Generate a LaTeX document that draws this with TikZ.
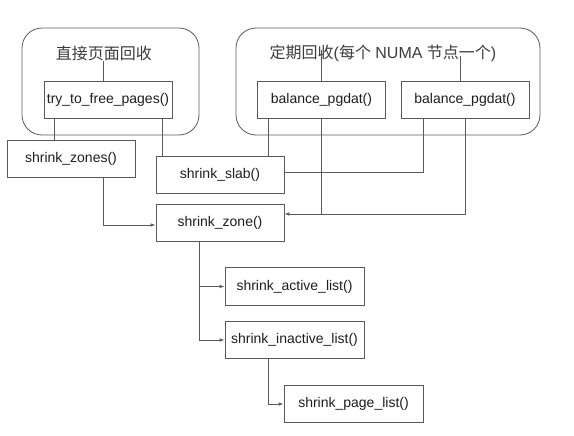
\documentclass[tikz,border=0pt]{standalone}
\usepackage{fontspec}
\setmainfont{Liberation Sans}
\newfontfamily\cjk{Noto Sans CJK SC}
\usetikzlibrary{arrows.meta}
\definecolor{linec}{HTML}{5A5A5A}
\definecolor{txtc}{HTML}{1E1E1E}
\definecolor{titc}{HTML}{3C3C3C}
\tikzset{
  fbox/.style={draw=linec, line width=0.8pt, fill=white, inner sep=0pt,
    minimum width=128pt, minimum height=37pt, text=txtc,
    font=\fontsize{14}{16}\selectfont},
  lbox/.style={fbox, minimum width=139pt, minimum height=37.5pt},
  group/.style={draw=linec, line width=0.8pt, rounded corners=20pt},
  conn/.style={draw=linec, line width=0.8pt},
  arr/.style={conn, -{Latex[length=5pt,width=3.5pt]}},
  titl/.style={text=titc, inner sep=0pt, font=\fontsize{16}{18}\selectfont}
}
\begin{document}
\begin{tikzpicture}[x=1pt,y=-1pt]
\useasboundingbox (0,0) rectangle (574,436);
% groups
\draw[group] (22,28) rectangle (199,135);
\draw[group] (236,28) rectangle (540,135);
% titles
\node[titl] (t1) at (104,53) {\cjk 直接页面回收};
\node[titl] (t2) at (383,53) {\cjk 定期回收\rmfamily(\cjk 每个\rmfamily{} NUMA \cjk 节点一个\rmfamily)};
% boxes
\node[fbox] (try)   at (108,99.5)  {try\_to\_free\_pages()};
\node[fbox] (bal1)  at (321.5,99.5) {balance\_pgdat()};
\node[fbox] (bal2)  at (465,99.5)  {balance\_pgdat()};
\node[fbox] (zones) at (71,158.5)  {shrink\_zones()};
\node[fbox] (slab)  at (220,174.5) {shrink\_slab()};
\node[fbox] (zone)  at (220,222.5) {shrink\_zone()};
\node[lbox] (active)   at (294.5,286.5) {shrink\_active\_list()};
\node[lbox] (inactive) at (294.5,340)   {shrink\_inactive\_list()};
\node[lbox] (page)     at (353.5,404)   {shrink\_page\_list()};
% helper coordinates
\coordinate (x54) at (54,0);
\coordinate (x103) at (103,0);
\coordinate (x162) at (162,0);
\coordinate (x199) at (199,0);
\coordinate (x268) at (268,0);
\coordinate (x423) at (423,0);
\coordinate (x460) at (460,0);
\coordinate (x465) at (465,0);
\coordinate (t1foot) at (103,61);
\coordinate (t2a) at (321,50);
\coordinate (t2b) at (460,56);
\coordinate (y214) at (0,214);
\coordinate (y225) at (0,225);
\coordinate (y172) at (0,172);
% title links
\draw[conn] (t1foot) -- (try.north -| x103);
\draw[conn] (t2a) -- (bal1.north -| t2a);
\draw[conn] (t2b) -- (bal2.north -| x460);
% try_to_free_pages
\draw[conn] (try.south -| x54) -- (zones.north -| x54);
\draw[conn] (try.south -| x162) -- (slab.north -| x162);
% balance_pgdat 1
\draw[conn] (bal1.south -| x268) -- (slab.north -| x268);
\draw[conn] (bal1.south -| t2a) -- (y214 -| t2a);
% balance_pgdat 2
\draw[conn] (bal2.south -| x423) -- (y172 -| x423) -- (slab.east |- y172);
\draw[arr] (bal2.south -| x465) -- (y214 -| x465) -- (zone.east |- y214);
% shrink_zones -> shrink_zone
\draw[arr] (zones.south -| x103) -- (y225 -| x103) -- (zone.west |- y225);
% shrink_zone -> lists
\draw[conn] (zone.south -| x199) -- (inactive.west -| x199);
\draw[arr] (active.west -| x199) -- (active.west);
\draw[arr] (inactive.west -| x199) -- (inactive.west);
% inactive -> page
\draw[arr] (inactive.south -| x268) -- (page.west -| x268) -- (page.west);
\end{tikzpicture}
\end{document}
